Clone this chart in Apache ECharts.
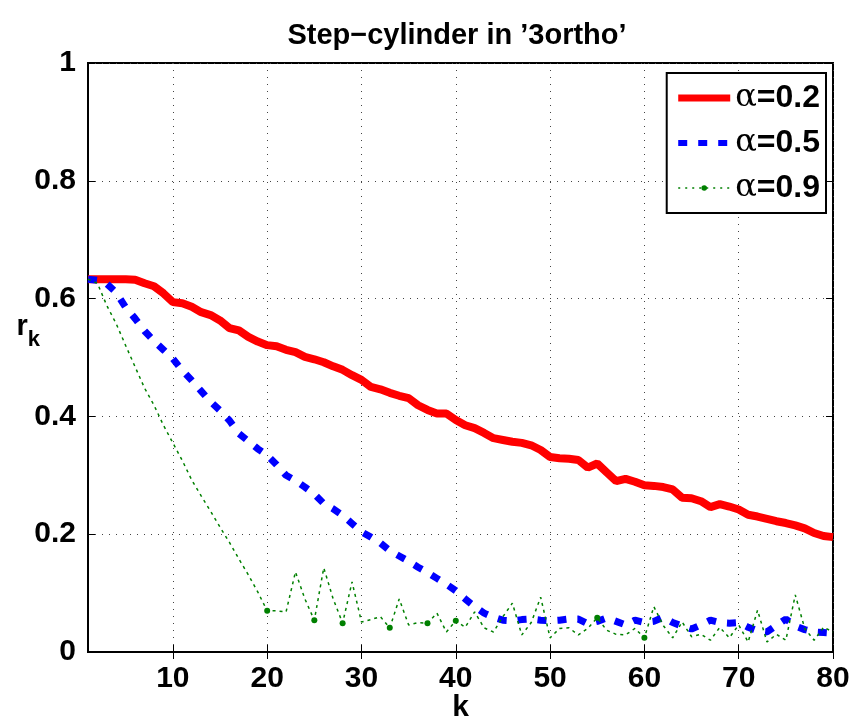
<!DOCTYPE html>
<html>
<head>
<meta charset="utf-8">
<script src="https://cdn.jsdelivr.net/npm/echarts@6/dist/echarts.min.js"></script>
<style>html,body{margin:0;padding:0;background:#fff;}#c{width:856px;height:722px;}</style>
</head>
<body>
<div id="c"></div>
<script>
const kValues = [1,2,3,4,5,6,7,8,9,10,11,12,13,14,15,16,17,18,19,20,21,22,23,24,25,26,27,28,29,30,31,32,33,34,35,36,37,38,39,40,41,42,43,44,45,46,47,48,49,50,51,52,53,54,55,56,57,58,59,60,61,62,63,64,65,66,67,68,69,70,71,72,73,74,75,76,77,78,79,80];
const alpha02 = [0.633,0.633,0.633,0.633,0.633,0.632,0.626,0.621,0.609,0.594,
  0.592,0.586,0.577,0.572,0.563,0.55,0.546,0.535,0.527,0.521,
  0.519,0.513,0.509,0.501,0.497,0.492,0.485,0.479,0.47,0.462,
  0.45,0.446,0.44,0.435,0.431,0.419,0.411,0.405,0.405,0.394,
  0.385,0.38,0.372,0.363,0.36,0.357,0.355,0.351,0.343,0.331,
  0.329,0.328,0.326,0.313,0.32,0.305,0.29,0.294,0.289,0.283,
  0.282,0.28,0.276,0.262,0.261,0.256,0.246,0.251,0.247,0.242,
  0.233,0.23,0.226,0.222,0.219,0.215,0.21,0.202,0.197,0.195];
const alpha05 = [0.633,0.631,0.625,0.61,0.585,0.566,0.545,0.528,0.513,0.498,
  0.478,0.461,0.443,0.425,0.41,0.393,0.371,0.358,0.345,0.334,
  0.318,0.3,0.291,0.28,0.268,0.252,0.243,0.232,0.218,0.204,
  0.195,0.185,0.172,0.163,0.154,0.144,0.135,0.125,0.115,0.104,
  0.09,0.077,0.066,0.059,0.054,0.053,0.055,0.056,0.054,0.053,
  0.054,0.056,0.056,0.048,0.052,0.058,0.052,0.046,0.054,0.05,
  0.052,0.059,0.05,0.044,0.039,0.046,0.054,0.05,0.049,0.05,
  0.042,0.036,0.034,0.045,0.056,0.044,0.038,0.034,0.033,0.032];
const alpha09 = [0.633,0.626,0.588,0.557,0.52,0.484,0.448,0.419,0.385,0.355,
  0.325,0.292,0.265,0.239,0.212,0.186,0.158,0.131,0.102,0.07,
  0.07,0.068,0.136,0.09,0.054,0.143,0.09,0.049,0.119,0.051,
  0.055,0.06,0.041,0.09,0.046,0.05,0.049,0.066,0.034,0.053,
  0.042,0.068,0.041,0.034,0.06,0.083,0.029,0.05,0.093,0.024,
  0.04,0.041,0.029,0.04,0.058,0.037,0.03,0.029,0.04,0.024,
  0.077,0.045,0.024,0.051,0.026,0.03,0.02,0.042,0.024,0.046,
  0.017,0.071,0.017,0.03,0.02,0.097,0.04,0.02,0.042,0.034];
const markerK = [20,25,28,33,37,40,55,60];
const xTicks = [10,20,30,40,50,60,70,80];
const seriesNames = ['α=0.2','α=0.5','α=0.9'];
const legendLabels = {'α=0.2':'0.2','α=0.5':'0.5','α=0.9':'0.9'};

const FONT = '"Liberation Sans", Arial, Helvetica, sans-serif';
const pairs = (ys) => kValues.map((k, i) => [k, ys[i]]);
const greenData = kValues.map((k, i) => markerK.indexOf(k) >= 0
  ? { value: [k, alpha09[i]] }
  : { value: [k, alpha09[i]], symbol: 'none' });

const redLine = { color: '#ff0000', width: 8 };
const blueLine = { color: '#0000ff', width: 7, type: [9, 11], cap: 'butt' };
const greenLine = { color: '#008000', width: 1.5, type: [3, 4] };

const chart = echarts.init(document.getElementById('c'), null, { renderer: 'canvas' });
const gridLine = { show: true, lineStyle: { color: '#444', type: [1, 6], width: 1 } };
const option = {
  backgroundColor: '#fff',
  animation: false,
  title: {
    text: 'Step−cylinder in ’3ortho’',
    left: 452, top: 16, textAlign: 'center',
    textStyle: { fontFamily: FONT, fontWeight: 'bold', fontSize: 29, color: '#000' }
  },
  grid: { left: 88, right: 23, top: 63, bottom: 70, outerBoundsMode: 'none', containLabel: false,
    show: true, borderColor: '#000', borderWidth: 2, backgroundColor: 'transparent' },
  legend: {
    data: [
      { name: seriesNames[0], itemStyle: { color: 'rgba(0,0,0,0)', borderWidth: 0 }, lineStyle: { width: 7 } },
      { name: seriesNames[1], itemStyle: { color: 'rgba(0,0,0,0)', borderWidth: 0 }, lineStyle: { width: 6, type: [9, 11] } },
      { name: seriesNames[2], lineStyle: { width: 1.5, type: [2, 5] } }
    ],
    right: 30, top: 73,
    orient: 'vertical',
    backgroundColor: '#fff',
    borderColor: '#000', borderWidth: 2, borderRadius: 0,
    padding: [9, 6, 9, 8],
    itemWidth: 52, itemHeight: 7, itemGap: 13,
    formatter: (n) => '{a|α}{b|=' + legendLabels[n] + '}',
    textStyle: {
      padding: [0, 0, 0, 0],
      rich: {
        a: { fontFamily: '"DejaVu Serif", serif', fontSize: 32, color: '#000' },
        b: { fontFamily: FONT, fontWeight: 'bold', fontSize: 32, color: '#000' }
      }
    }
  },
  xAxis: [{
    type: 'value', min: 1, max: 80,
    name: 'k', nameLocation: 'middle', nameGap: 41, nameMoveOverlap: false,
    nameTextStyle: { fontFamily: FONT, fontWeight: 'bold', fontSize: 30, color: '#000' },
    axisLine: { show: true, onZero: false, lineStyle: { color: '#000', width: 2 } },
    axisTick: { show: true, inside: true, length: 7, customValues: xTicks, lineStyle: { color: '#000', width: 1 } },
    axisLabel: { customValues: xTicks, margin: 12, fontFamily: FONT, fontWeight: 'bold', fontSize: 30, color: '#000' },
    splitLine: gridLine
  }, {
    type: 'value', min: 1, max: 80, position: 'top',
    axisLine: { show: false },
    axisTick: { show: true, inside: true, length: 7, customValues: xTicks, lineStyle: { color: '#000', width: 1 } },
    axisLabel: { show: false, customValues: xTicks },
    splitLine: { show: false }
  }],
  yAxis: [{
    type: 'value', min: 0, max: 1, interval: 0.2,
    name: '{r|r}{k|k}', nameLocation: 'middle', nameRotate: 0, nameGap: 48, nameMoveOverlap: false,
    nameTextStyle: {
      padding: [0, 0, 62, 0],
      rich: {
        r: { fontFamily: FONT, fontWeight: 'bold', fontSize: 29, color: '#000' },
        k: { fontFamily: FONT, fontWeight: 'bold', fontSize: 22, color: '#000', padding: [26, 0, 0, 0] }
      }
    },
    axisLine: { show: true, lineStyle: { color: '#000', width: 2 } },
    axisTick: { show: true, inside: true, length: 7, lineStyle: { color: '#000', width: 1 } },
    axisLabel: { margin: 12, fontFamily: FONT, fontWeight: 'bold', fontSize: 30, color: '#000',
      formatter: (v) => String(Math.round(v * 10) / 10) },
    splitLine: gridLine
  }, {
    type: 'value', min: 0, max: 1, interval: 0.2, position: 'right',
    axisLine: { show: false },
    axisTick: { show: true, inside: true, length: 7, lineStyle: { color: '#000', width: 1 } },
    axisLabel: { show: false },
    splitLine: { show: false }
  }],
  series: [{
    name: seriesNames[0], type: 'line', xAxisIndex: 0, yAxisIndex: 0,
    data: pairs(alpha02), symbol: 'none',
    lineStyle: redLine, itemStyle: { color: '#ff0000' }
  }, {
    name: seriesNames[1], type: 'line', xAxisIndex: 0, yAxisIndex: 0,
    data: pairs(alpha05), symbol: 'none',
    lineStyle: blueLine, itemStyle: { color: '#0000ff' }
  }, {
    name: seriesNames[2], type: 'line', xAxisIndex: 0, yAxisIndex: 0,
    data: greenData, symbol: 'circle', symbolSize: 6, showSymbol: true,
    lineStyle: greenLine, itemStyle: { color: '#008000', borderWidth: 0 }
  }]
};
chart.setOption(option);
</script>
</body>
</html>
